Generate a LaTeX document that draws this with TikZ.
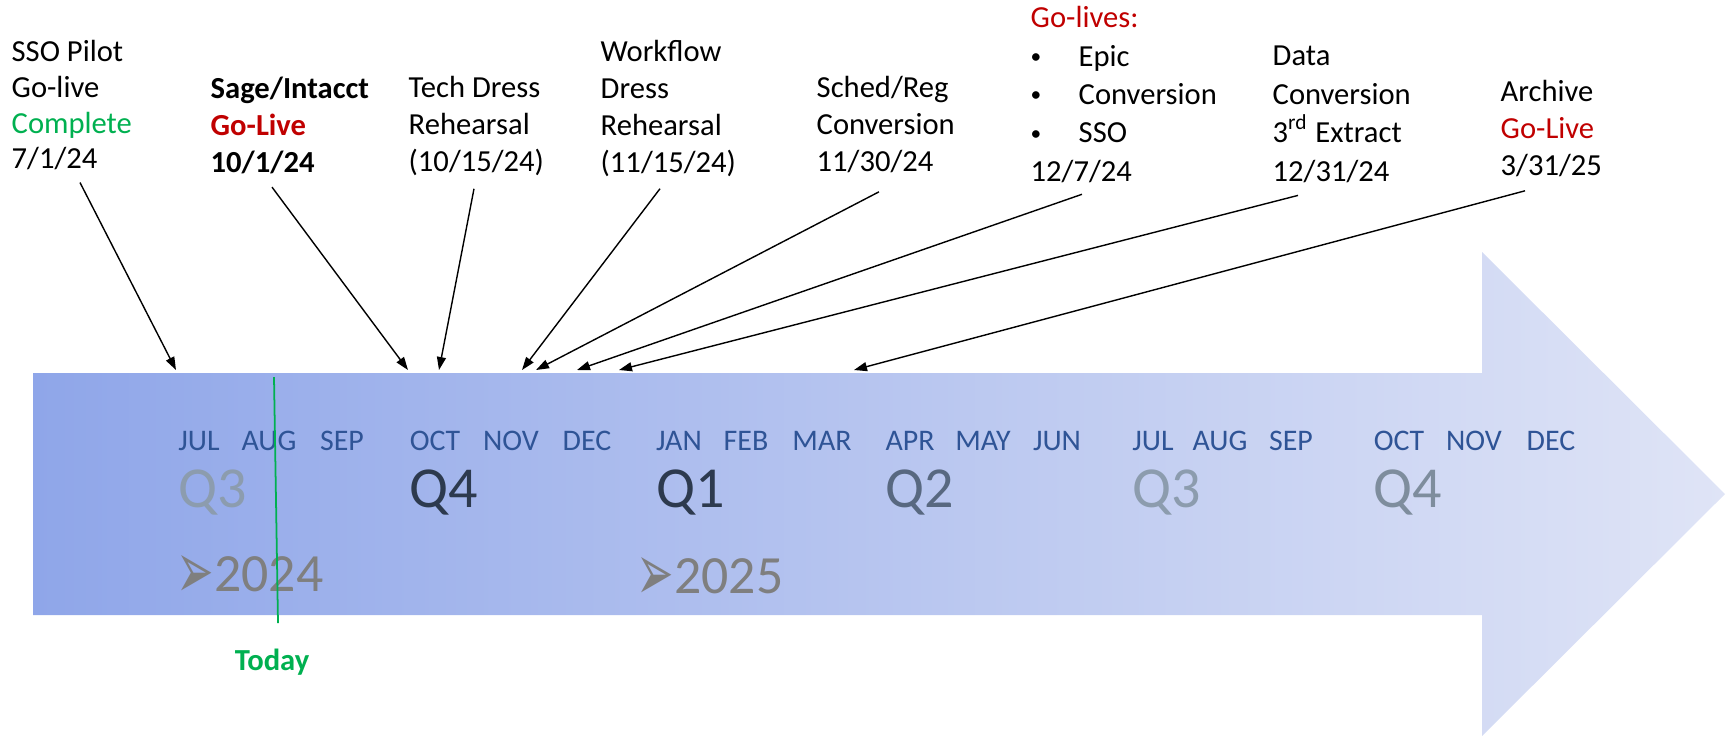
\documentclass[tikz,border=0pt]{standalone}
\usepackage{fontspec}
\usepackage{graphicx}
\setmainfont{Carlito}
\newfontfamily\dingfont{DejaVu Sans}
\usetikzlibrary{positioning}
\usetikzlibrary{arrows.meta}

\definecolor{bandleft}{RGB}{143,166,233}
\definecolor{bandright}{RGB}{223,228,246}
\definecolor{monthblue}{RGB}{47,84,150}
\definecolor{golive}{RGB}{192,0,0}
\definecolor{done}{RGB}{0,176,80}
\definecolor{yeargray}{RGB}{127,127,127}
\definecolor{qdark}{RGB}{45,58,78}
\definecolor{qmid}{RGB}{88,104,128}
\definecolor{qpale}{RGB}{140,156,174}

\newcommand\notefont{\fontsize{8.7}{10.5}\selectfont}
\newcommand\monthfont{\fontsize{8.5}{10}\selectfont}
\newcommand\qfont{\fontsize{16.5}{18}\selectfont}
\newcommand\yearfont{\fontsize{15.3}{17}\selectfont}
\newcommand\yeartick{\raisebox{-2.2pt}{\scalebox{0.75}[1.35]{\dingfont\fontsize{17}{17}\selectfont ➢}}}
\newcommand\dotitem{\makebox[0.48cm][l]{\raisebox{0.2ex}{\scalebox{0.7}{\textbullet}}}}

\begin{document}
\begin{tikzpicture}[x=0.01cm,y=-0.01cm,
    note/.style={align=left,inner sep=0pt,anchor=north west,font=\notefont},
    month/.style={inner sep=0pt,anchor=base,font=\monthfont,text=monthblue},
    qtr/.style={inner sep=0pt,anchor=base west,font=\qfont},
    year/.style={inner sep=0pt,anchor=base west,font=\yearfont,text=yeargray},
    pointer/.style={-{Triangle[length=0.13cm,width=0.09cm]},line width=0.4pt}]
    \useasboundingbox (0,0) rectangle (1730,735);
    % the big arrow
    \path[left color=bandleft,right color=bandright]
        (33,373) -- (1482,373) -- (1482,252) -- (1725,494) -- (1482,736)
        -- (1482,615) -- (33,615) -- cycle;
    %
    \node[month](jul24) at (199,450){JUL};
    \node[month](aug24) at (269,450){AUG};
    \node[month](sep24) at (342,450){SEP};
    \node[month](oct24) at (435,450){OCT};
    \node[month](nov24) at (511,450){NOV};
    \node[month](dec24) at (587,450){DEC};
    \node[month](jan25) at (679,450){JAN};
    \node[month](feb25) at (746,450){FEB};
    \node[month](mar25) at (822,450){MAR};
    \node[month](apr25) at (910,450){APR};
    \node[month](may25) at (983,450){MAY};
    \node[month](jun25) at (1057,450){JUN};
    \node[month](jul25) at (1153,450){JUL};
    \node[month](aug25) at (1220,450){AUG};
    \node[month](sep25) at (1291,450){SEP};
    \node[month](oct25) at (1399,450){OCT};
    \node[month](nov25) at (1474,450){NOV};
    \node[month](dec25) at (1551,450){DEC};
    %
    \node[qtr,text=qpale](q3a) at (jul24.west |- 0,507){Q3};
    \node[qtr,text=qdark](q4a) at (oct24.west |- 0,507){Q4};
    \node[qtr,text=qdark](q1b) at (jan25.west |- 0,507){Q1};
    \node[qtr,text=qmid](q2b) at (apr25.west |- 0,507){Q2};
    \node[qtr,text=qpale](q3b) at (jul25.west |- 0,507){Q3};
    \node[qtr,text=qpale!90!black](q4b) at (oct25.west |- 0,507){Q4};
    %
    \node[year](y24) at (176,591){\yeartick2024};
    \node[year](y25) at (636,593){\yeartick2025};
    %
    \coordinate (nowtop) at (274,377);
    \coordinate (nowbot) at (278,623);
    \draw[done,line width=0.5pt] (nowtop) -- (nowbot);
    \node[inner sep=0pt,anchor=base,font=\notefont\bfseries,text=done](today) at (272,670){Today};
    %
    \node[note,font=\fontsize{8.7}{10.1}\selectfont](sso) at (11,40){SSO Pilot\\Go-live\\\textcolor{done}{Complete}\\7/1/24};
    \node[note,font=\notefont\bfseries](sage) at (210,76){Sage/Intacct\\\textcolor{golive}{Go-Live}\\10/1/24};
    \node[note](tech) at (408,76){Tech Dress\\Rehearsal\\(10/15/24)};
    \node[note](flow) at (600,40){Workflow\\Dress\\Rehearsal\\(11/15/24)};
    \node[note](sched) at (816,76){Sched/Reg\\Conversion\\11/30/24};
    \node[note,font=\fontsize{8.7}{10.9}\selectfont](golives) at (1030,6){\textcolor{golive}{Go-lives:}\\
        \dotitem Epic\\
        \dotitem Conversion\\
        \dotitem SSO\\
        12/7/24};
    \node[note,font=\fontsize{8.7}{11}\selectfont](extract) at (1272,45){Data\\Conversion\\3\textsuperscript{rd} Extract\\12/31/24};
    \node[note](archive) at (1500,80){Archive\\\textcolor{golive}{Go-Live}\\3/31/25};
    %
    \coordinate (jul1) at (176,370);
    \coordinate (oct1) at (408,370);
    \coordinate (oct15) at (439,370);
    \coordinate (nov15) at (522,370);
    \coordinate (nov30) at (536,370);
    \coordinate (dec7) at (577,370);
    \coordinate (dec31) at (619,370);
    \coordinate (mar31) at (854,370);
    %
    \draw[pointer] ([shift={(69,12)}]sso.south west) -- (jul1);
    \draw[pointer] ([shift={(62,13)}]sage.south west) -- (oct1);
    \draw[pointer] ([shift={(66,12)}]tech.south west) -- (oct15);
    \draw[pointer] ([shift={(60,11)}]flow.south west) -- (nov15);
    \draw[pointer] ([shift={(63,18)}]sched.south west) -- (nov30);
    \draw[pointer] ([shift={(52,11)}]golives.south west) -- (dec7);
    \draw[pointer] ([shift={(26,12)}]extract.south west) -- (dec31);
    \draw[pointer] ([shift={(25,13)}]archive.south west) -- (mar31);
\end{tikzpicture}
\end{document}
